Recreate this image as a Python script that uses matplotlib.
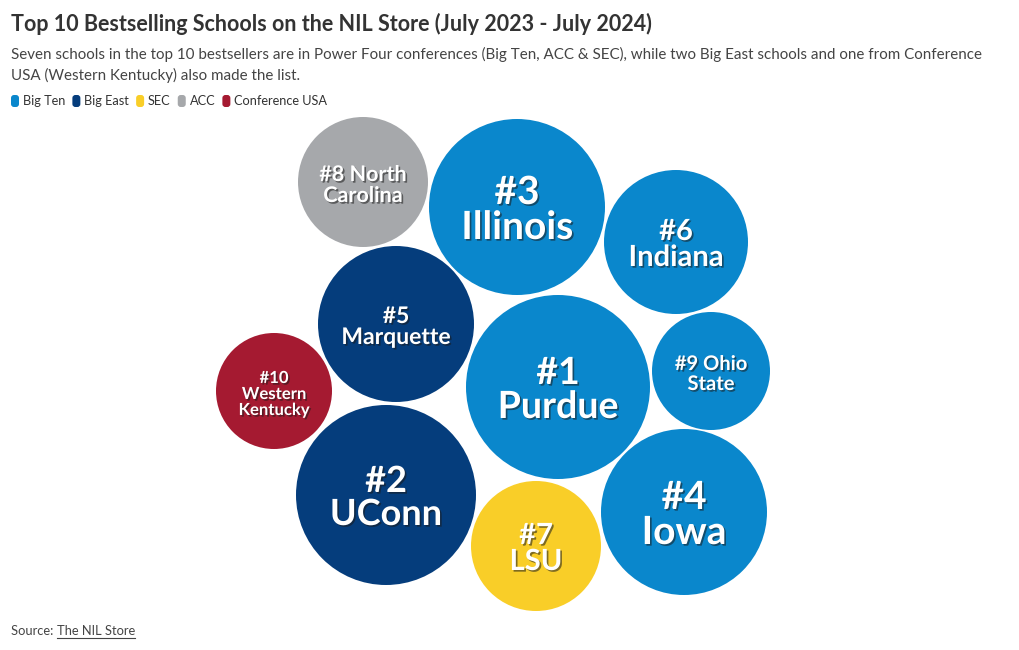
import numpy as np
import matplotlib.pyplot as plt
from matplotlib.patches import Circle, FancyBboxPatch
import matplotlib.patheffects as pe

plt.rcParams['font.family'] = ['Lato', 'DejaVu Sans']

# data
schools = ['Purdue', 'UConn', 'Illinois', 'Iowa', 'Marquette', 'Indiana',
           'LSU', 'North\nCarolina', 'Ohio\nState', 'Western\nKentucky']
ranks = [1, 2, 3, 4, 5, 6, 7, 8, 9, 10]
conferences = ['Big Ten', 'Big East', 'Big Ten', 'Big Ten', 'Big East', 'Big Ten',
               'SEC', 'ACC', 'Big Ten', 'Conference USA']
# relative sales index (bubble area)
sales = [8464, 8100, 7744, 6889, 6084, 5184, 4225, 4225, 3481, 3364]

conf_order = ['Big Ten', 'Big East', 'SEC', 'ACC', 'Conference USA']
conf_colors = {'Big Ten': '#0a87cc', 'Big East': '#053d7c', 'SEC': '#f9ce28',
               'ACC': '#a6a8ab', 'Conference USA': '#a51a31'}

# packed layout (bubble centres, px)
centers_x = [558, 386, 517, 684, 396, 676, 536, 363, 711, 274]
centers_y = [387, 495, 207, 512, 324, 242, 546, 182, 371, 391]
label_sizes = [27, 26, 28, 28, 16.5, 21, 21, 15.5, 14.5, 12]
one_line = [False, False, False, False, False, False, False, True, True, False]

fig = plt.figure(figsize=(10.2, 6.5), dpi=100)
ax = fig.add_axes([0, 0, 1, 1])
ax.set_xlim(0, 1020)
ax.set_ylim(650, 0)
ax.set_aspect('equal')
ax.axis('off')

for i in range(len(schools)):
    r = np.sqrt(sales[i])
    ax.add_patch(Circle((centers_x[i], centers_y[i]), r, color=conf_colors[conferences[i]], lw=0))
    if one_line[i]:
        first, second = schools[i].split('\n')
        label = '#%d %s\n%s' % (ranks[i], first, second)
    else:
        label = '#%d\n%s' % (ranks[i], schools[i])
    t = ax.text(centers_x[i], centers_y[i] + 3, label, ha='center', va='center',
                fontsize=label_sizes[i], fontweight='bold', color='white',
                linespacing=1.0)
    t.set_path_effects([pe.SimplePatchShadow(offset=(1.2, -1.2), shadow_rgbFace='#1a1a1a', alpha=0.55),
                        pe.Normal()])

# title / subtitle
fig.text(11/1020, 1 - 24/650, 'Top 10 Bestselling Schools on the NIL Store (July 2023 - July 2024)',
         fontsize=15.5, fontweight='bold', color='#333333', va='center')
fig.text(11/1020, 1 - 65/650,
         'Seven schools in the top 10 bestsellers are in Power Four conferences (Big Ten, ACC & SEC), while two Big East schools and one from Conference\nUSA (Western Kentucky) also made the list.',
         fontsize=10.9, color='#444444', va='center', linespacing=1.5)

# legend
lx = 11
for c in conf_order:
    ax.add_patch(FancyBboxPatch((lx, 95), 8, 12, boxstyle='round,pad=0,rounding_size=3',
                                color=conf_colors[c], lw=0))
    t = ax.text(lx + 12, 101, c, fontsize=9.2, color='#333333', va='center')
    fig.canvas.draw()
    bb = t.get_window_extent()
    lx = lx + 12 + bb.width + 7

# source
t = fig.text(11/1020, 1 - 631/650, 'Source: ', fontsize=9.3, color='#444444', va='center')
fig.canvas.draw()
w = t.get_window_extent().width
t2 = fig.text((11 + w)/1020, 1 - 631/650, 'The NIL Store', fontsize=9.3, color='#444444', va='center')
fig.canvas.draw()
w2 = t2.get_window_extent().width
ax.plot([11 + w, 11 + w + w2], [638, 638], color='#444444', lw=0.8)

fig.savefig('out.png', dpi=100)
